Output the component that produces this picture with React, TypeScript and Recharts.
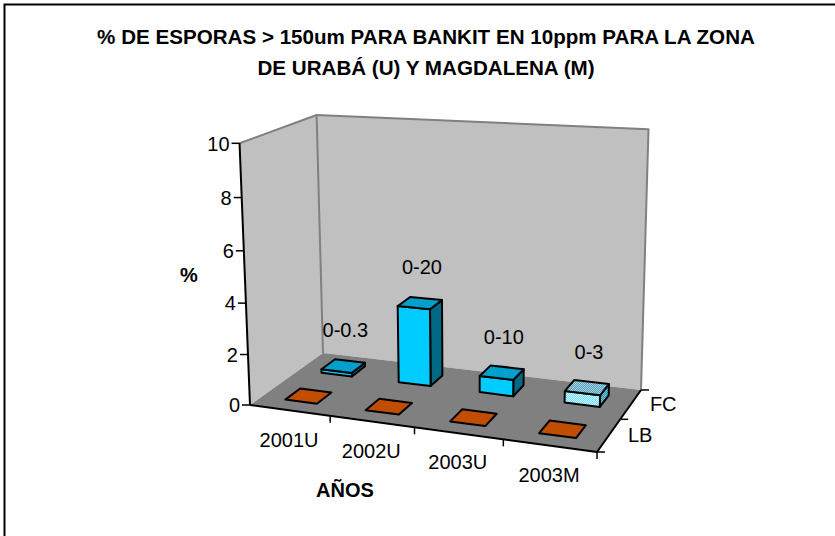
import { BarChart, Bar, XAxis, YAxis, LabelList, Customized } from "recharts"

// values
const categories = ["2001U", "2002U", "2003U", "2003M"]
const fcValues = [0.15, 3.1, 0.65, 0.45]
const lbValues = [0, 0, 0, 0]
const fcLabels = ["0-0.3", "0-20", "0-10", "0-3"]
const depthSeries = ["LB", "FC"] // front row first
const yTicks = [0, 2, 4, 6, 8, 10]
const titleLines = [
  "% DE ESPORAS > 150um PARA BANKIT EN 10ppm PARA LA ZONA",
  "DE URABÁ (U) Y MAGDALENA (M)",
]

const data = categories.map((cat, i) => ({ cat, FC: fcValues[i], LB: lbValues[i], label: fcLabels[i] }))

const FONT = "'Liberation Sans', Arial, Helvetica, sans-serif"
const W = 835
const H = 536

// flat plot area the library lays out; it is then projected into the 3D view
const PL = 250
const PT = 100
const PW = 390
const PH = 305
const PB = PT + PH

// perspective projection: s along categories, t into depth, u up the value axis (all 0..1)
const proj = (s: number, t: number, u: number): [number, number] => {
  const w = 1 - 0.0987 * s + 0.1049 * t - 0.044 * u
  return [(288.1 * s + 106.9 * t + 250 - 21 * u) / w, (2.4 * s - 15 * t + 405 - 268 * u) / w]
}
const pts = (list: [number, number][]) => list.map((p) => `${p[0].toFixed(1)},${p[1].toFixed(1)}`).join(" ")
const sOf = (x: number) => (x - PL) / PW
const uOf = (y: number) => Math.max(0, (PB - y) / PH)

const fcColors = { front: "#00CCFF", top: "#00A0CC", side: "#006A85" }
const fcPatterned = { front: "url(#dotFront)", top: "url(#dotTop)", side: "url(#dotSide)" }
const lbColors = { front: "#E05A00", top: "#C04D00", side: "#8A3700" }
const PATTERNED = "2003M"

const Box = (props: any) => {
  const { x, y, width, payload, row } = props
  const s = sOf(x + width / 2)
  const u = uOf(y)
  const tc = (row + 0.5) / 2
  const s0 = s - 0.05
  const s1 = s + 0.05
  const t0 = tc - 0.1
  const t1 = tc + 0.1
  const pal = row === 0 ? lbColors : payload.cat === PATTERNED ? fcPatterned : fcColors
  const top = pts([proj(s0, t0, u), proj(s1, t0, u), proj(s1, t1, u), proj(s0, t1, u)])
  const edge = { stroke: "#000", strokeWidth: 2, strokeLinejoin: "round" as const }
  if (u < 0.002) return <polygon points={top} fill={pal.top} {...edge} />
  const front = pts([proj(s0, t0, 0), proj(s1, t0, 0), proj(s1, t0, u), proj(s0, t0, u)])
  const side = pts([proj(s1, t0, 0), proj(s1, t1, 0), proj(s1, t1, u), proj(s1, t0, u)])
  return (
    <g>
      <polygon points={side} fill={pal.side} {...edge} />
      <polygon points={front} fill={pal.front} {...edge} />
      <polygon points={top} fill={pal.top} {...edge} />
    </g>
  )
}

const DataLabel = (props: any) => {
  const vb = props.viewBox || props
  const [X, Y] = proj(sOf(vb.x + vb.width / 2), 0.75, uOf(vb.y))
  return (
    <text x={X + 2} y={Y - 36} dy="0.36em" textAnchor="middle" fontFamily={FONT} fontSize={20} fill="#000">
      {props.value}
    </text>
  )
}

const YTick = (props: any) => {
  const { y, payload } = props
  const [X, Y] = proj(0, 0, uOf(y))
  return (
    <g>
      <line x1={X - 8} y1={Y} x2={X} y2={Y} stroke="#000" strokeWidth={1.5} />
      <text x={X - 10} y={Y} dy="0.36em" textAnchor="end" fontFamily={FONT} fontSize={20} fill="#000">
        {payload.value}
      </text>
    </g>
  )
}

const XTick = (props: any) => {
  const { x, payload } = props
  const s = sOf(x)
  const [X, Y] = proj(s, 0, 0)
  const [BX, BY] = proj(s + 0.125, 0, 0)
  return (
    <g>
      <line x1={BX} y1={BY} x2={BX} y2={BY + 7} stroke="#000" strokeWidth={1.5} />
      <text x={X - 0.5} y={Y + 29} dy="0.36em" textAnchor="middle" fontFamily={FONT} fontSize={20} fill="#000">
        {payload.value}
      </text>
    </g>
  )
}

const Defs = () => (
  <defs>
    <pattern id="dotFront" width="2" height="2" patternUnits="userSpaceOnUse">
      <rect width="2" height="2" fill="#66DDFF" />
      <rect width="1" height="1" fill="#D9F7FF" />
      <rect x="1" y="1" width="1" height="1" fill="#D9F7FF" />
    </pattern>
    <pattern id="dotTop" width="2" height="2" patternUnits="userSpaceOnUse">
      <rect width="2" height="2" fill="#4F9FBA" />
      <rect width="1" height="1" fill="#A9D3E0" />
      <rect x="1" y="1" width="1" height="1" fill="#A9D3E0" />
    </pattern>
    <pattern id="dotSide" width="2" height="2" patternUnits="userSpaceOnUse">
      <rect width="2" height="2" fill="#1A8FB0" />
      <rect width="1" height="1" fill="#7CC8DD" />
      <rect x="1" y="1" width="1" height="1" fill="#7CC8DD" />
    </pattern>
  </defs>
)

const Backdrop = () => {
  const leftWall = pts([proj(0, 0, 0), proj(0, 1, 0), proj(0, 1, 1), proj(0, 0, 1)])
  const backWall = pts([proj(0, 1, 0), proj(1, 1, 0), proj(1, 1, 1), proj(0, 1, 1)])
  const floor = pts([proj(0, 0, 0), proj(1, 0, 0), proj(1, 1, 0), proj(0, 1, 0)])
  const gray = { stroke: "#808080", strokeWidth: 2, fill: "none", strokeLinejoin: "round" as const }
  const edgeLine = (a: [number, number], b: [number, number], key: string, stroke = "#000") => (
    <line key={key} x1={a[0]} y1={a[1]} x2={b[0]} y2={b[1]} stroke={stroke} strokeWidth={2} />
  )
  return (
    <g>
      <rect x={4.5} y={4.5} width={W + 50} height={H + 50} fill="#fff" stroke="#000" strokeWidth={2} />
      {titleLines.map((line, i) => (
        <text key={line} x={426} y={43.5 + i * 31.5} textAnchor="middle" fontFamily={FONT} fontWeight="bold" fontSize={20.6} fill="#000">
          {line}
        </text>
      ))}
      <polygon points={leftWall} fill="#C0C0C0" />
      <polygon points={backWall} fill="#C0C0C0" />
      <polygon points={floor} fill="#808080" />
      <polyline points={pts([proj(0, 0, 1), proj(0, 1, 1), proj(1, 1, 1), proj(1, 1, 0)])} {...gray} />
      <polyline points={pts([proj(0, 1, 0), proj(0, 1, 1)])} {...gray} />
      {edgeLine(proj(0, 0, 0), proj(0, 0, 1), "yaxis")}
      {edgeLine(proj(0, 0, 0), proj(1, 0, 0), "xaxis")}
      {edgeLine(proj(1, 0, 0), proj(1, 1, 0), "zaxis")}
      {[0, 0.5, 1].map((t) => {
        const [X, Y] = proj(1, t, 0)
        return <line key={`zt${t}`} x1={X} y1={Y} x2={X + 8} y2={Y} stroke="#000" strokeWidth={1.5} />
      })}
      {depthSeries.map((name, r) => {
        const [X, Y] = proj(1, (r + 0.5) / 2, 0)
        return (
          <text key={name} x={X + 19} y={Y - 0.7} dy="0.36em" fontFamily={FONT} fontSize={20} fill="#000">
            {name}
          </text>
        )
      })}
      <text x={189} y={275} dy="0.36em" textAnchor="middle" fontFamily={FONT} fontWeight="bold" fontSize={20} fill="#000">
        %
      </text>
      <text x={345} y={497} textAnchor="middle" fontFamily={FONT} fontWeight="bold" fontSize={20} fill="#000">
        AÑOS
      </text>
    </g>
  )
}

export default function App() {
  return (
    <div style={{ position: "absolute", left: 0, top: 0, width: W, height: H, background: "#fff" }}>
      <BarChart width={W} height={H} data={data} margin={{ top: PT, right: W - PL - PW, bottom: 0, left: 0 }}>
        <Customized component={Defs} />
        <Customized component={Backdrop} />
        <XAxis dataKey="cat" height={H - PB} axisLine={false} tickLine={false} tick={<XTick />} interval={0} />
        <XAxis dataKey="cat" xAxisId="lb" hide />
        <YAxis width={PL} domain={[0, 10]} ticks={yTicks} axisLine={false} tickLine={false} tick={<YTick />} />
        <Bar dataKey="FC" isAnimationActive={false} shape={(p: any) => <Box {...p} row={1} />}>
          <LabelList dataKey="label" content={<DataLabel />} />
        </Bar>
        <Bar dataKey="LB" xAxisId="lb" isAnimationActive={false} shape={(p: any) => <Box {...p} row={0} />} />
      </BarChart>
    </div>
  )
}
